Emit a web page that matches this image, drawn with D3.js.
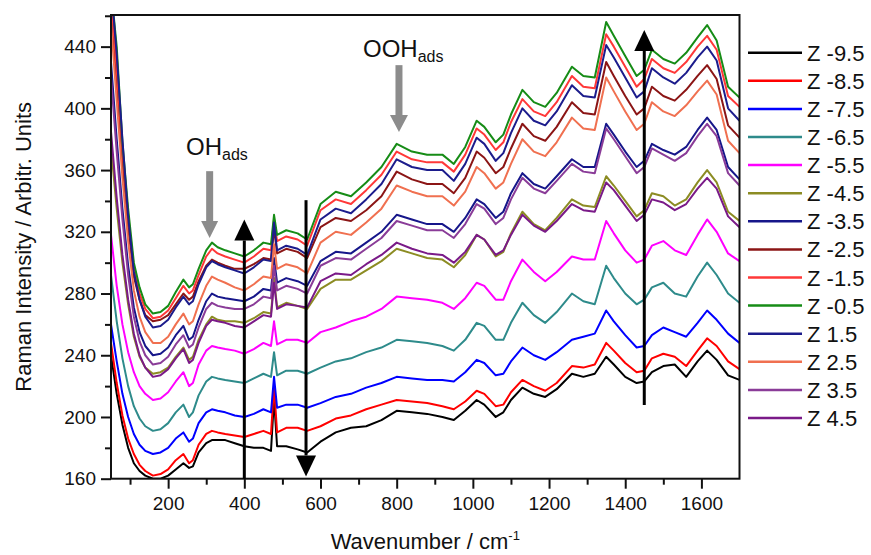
<!DOCTYPE html>
<html><head><meta charset="utf-8">
<script src="https://cdn.jsdelivr.net/npm/d3@7"></script>
<style>body{margin:0;background:#fff} svg{display:block} text{font-family:"Liberation Sans",Arial,sans-serif;fill:#111}</style>
</head><body><svg id="c" width="871" height="555"></svg>
<script>
const wavenumber = [50,65,80,95,110,125,140,160,180,200,220,240,255,265,280,300,315,330,350,375,400,425,450,470,478,486,510,540,565,600,640,680,720,760,800,840,880,920,950,980,1010,1030,1060,1080,1100,1130,1160,1190,1220,1260,1290,1320,1350,1370,1400,1430,1450,1470,1500,1530,1560,1590,1615,1640,1670,1700];

const seriesLabels = ["Z -9.5","Z -8.5","Z -7.5","Z -6.5","Z -5.5","Z -4.5","Z -3.5","Z -2.5","Z -1.5","Z -0.5","Z 1.5","Z 2.5","Z 3.5","Z 4.5"];

const zNeg9_5 = [240,215,195,180,170,165,162,160,160,162,166,170,167,168,177,183,185,185,185,183,181,180,180,178,212,181,181,179,177,184,190,193,194,198,204,203,202,200,198,204,211,208,200,203,211,219,215,213,218,228,226,228,239,234,226,222,223,229,233,234,226,236,243,237,227,224];
const zNeg8_5 = [248,222,201,186,176,169,165,162,163,166,172,176,170,172,182,189,191,190,189,188,187,189,191,189,220,190,193,193,191,194,199,201,205,208,211,210,209,207,205,210,217,215,207,208,216,224,220,217,222,233,232,234,248,243,235,229,230,238,241,239,233,243,251,246,236,231];
const zNeg7_5 = [260,236,215,200,189,182,178,176,177,180,186,190,184,186,196,203,205,204,203,201,200,202,205,203,226,206,208,208,206,209,213,215,219,222,226,225,224,224,223,229,237,235,227,228,236,245,240,237,242,250,252,254,269,262,253,245,246,253,258,255,252,261,269,263,254,248];
const zNeg6_5 = [292,262,238,220,207,199,194,191,192,196,203,208,200,203,214,223,226,225,224,223,222,225,228,226,242,227,230,230,228,232,236,238,242,245,250,249,248,246,243,250,261,259,250,250,261,274,266,261,268,280,275,273,298,290,280,273,276,284,287,280,278,291,300,292,280,274];
const zNeg5_5 = [318,285,260,242,229,220,215,211,212,216,223,229,220,222,234,243,246,245,244,243,241,244,248,246,262,247,250,250,248,255,258,262,265,270,278,277,276,274,270,277,287,285,276,276,288,302,294,288,294,304,302,302,327,319,308,300,302,311,314,308,305,318,328,320,306,301];
const zNeg4_5 = [375,335,300,273,252,239,232,228,229,232,239,245,237,239,250,260,265,263,262,262,261,264,268,267,290,271,274,272,270,283,289,289,295,301,309,306,303,302,297,305,318,315,304,307,319,333,325,321,329,341,337,336,356,350,340,330,334,345,343,337,341,352,360,352,333,327];
const zNeg3_5 = [430,380,335,298,271,255,246,240,241,245,253,259,250,252,263,275,280,278,277,276,275,278,283,282,303,287,290,288,285,301,307,306,313,320,331,328,325,325,320,329,341,338,329,333,345,358,351,348,356,367,362,362,390,383,372,362,366,377,373,370,375,386,394,386,362,354];
const zNeg2_5 = [465,415,365,323,291,276,266,262,263,266,273,280,276,278,288,298,302,300,298,296,296,299,303,302,322,306,309,307,303,323,329,327,334,343,359,354,351,351,345,355,372,368,358,362,374,390,382,379,388,404,397,396,430,421,408,396,400,414,408,405,412,421,428,419,389,381];
const zNeg1_5 = [472,425,374,331,297,280,270,264,265,269,277,285,280,282,292,304,309,306,304,302,300,304,309,308,328,314,317,315,311,334,341,338,347,357,372,367,365,365,359,370,387,383,373,378,391,406,398,395,404,421,414,413,448,440,427,414,419,432,426,423,430,440,447,438,408,401];
const zNeg0_5 = [478,440,378,335,300,284,273,267,268,272,281,289,284,286,296,308,313,310,308,306,304,308,313,312,331,318,321,319,315,338,346,343,352,362,377,372,370,370,364,375,392,388,378,383,396,412,404,401,410,427,421,420,456,447,434,421,425,438,432,429,436,446,454,444,414,407];
const zPos1_5 = [480,435,380,330,294,276,265,258,259,263,271,278,273,275,286,297,301,299,297,295,293,297,302,301,326,308,311,309,305,328,335,332,341,351,367,362,360,360,353,364,381,377,366,371,384,400,392,389,398,415,408,407,441,433,420,407,411,426,420,416,423,433,440,431,400,392];
const zPos2_5 = [455,405,355,314,282,265,255,248,248,252,260,267,260,262,273,285,291,289,287,284,282,286,291,290,312,296,299,297,293,313,320,318,326,335,350,346,343,343,337,346,362,358,348,352,364,380,372,369,378,394,387,386,420,411,398,386,390,404,398,395,402,411,418,409,379,371];
const zPos3_5 = [420,372,328,292,265,249,240,234,235,239,247,253,245,247,258,270,274,272,271,270,270,273,278,277,298,282,285,283,280,298,303,302,309,316,327,324,321,321,316,325,338,335,325,329,341,355,348,345,353,364,359,358,387,380,369,358,362,374,370,366,371,382,390,382,358,350];
const zPos4_5 = [385,342,305,276,254,240,232,226,227,231,238,244,235,237,248,259,263,262,261,259,258,262,266,265,287,270,273,272,271,288,293,292,299,305,313,309,306,305,300,307,318,315,305,308,318,331,324,320,327,338,334,333,352,347,337,327,331,341,339,334,338,348,355,348,330,323];

const seriesValues = [zNeg9_5,zNeg8_5,zNeg7_5,zNeg6_5,zNeg5_5,zNeg4_5,zNeg3_5,zNeg2_5,zNeg1_5,zNeg0_5,zPos1_5,zPos2_5,zPos3_5,zPos4_5];
const seriesColors = ["#000000","#ff0000","#0000ff","#2e8b8b","#ff00ff","#8c8c23","#16168a","#8b1515","#ff3838","#168c16","#1c1c8c","#f07050","#8a3c98","#7a1a88"];

const yMajor = [160,200,240,280,320,360,400,440];
const yMinor = [180,220,260,300,340,380,420,460];
const xMajor = [200,400,600,800,1000,1200,1400,1600];
const xMinor = [100,300,500,700,900,1100,1300,1500];

const svg = d3.select("#c");
const L = 111, R = 739.5, T = 15, B = 478.7;
const x = d3.scaleLinear().domain([50,1700]).range([L,R]);
const y = d3.scaleLinear().domain([160,460.5]).range([B,T]);

svg.append("defs").append("clipPath").attr("id","clip")
  .append("rect").attr("x",L).attr("y",T).attr("width",R-L).attr("height",B-T);

const line = d3.line().x((d,i)=>x(wavenumber[i])).y(d=>y(d));
const gLines = svg.append("g").attr("clip-path","url(#clip)");
seriesValues.forEach((vals,k)=>{
  gLines.append("path").datum(vals).attr("d",line)
    .attr("fill","none").attr("stroke",seriesColors[k]).attr("stroke-width",2).attr("stroke-linejoin","round");
});

// axes
const fs = "19px";
const yAx = svg.append("g").attr("transform",`translate(${L},0)`)
  .call(d3.axisLeft(y).tickValues(yMajor).tickSize(10).tickPadding(5).tickFormat(d3.format("d")));
svg.append("g").attr("transform",`translate(${L},0)`)
  .call(d3.axisLeft(y).tickValues(yMinor).tickSize(6).tickFormat(""));
const xAx = svg.append("g").attr("transform",`translate(0,${B})`)
  .call(d3.axisBottom(x).tickValues(xMajor).tickSize(10).tickPadding(8).tickFormat(d3.format("d")));
svg.append("g").attr("transform",`translate(0,${B})`)
  .call(d3.axisBottom(x).tickValues(xMinor).tickSize(6).tickFormat(""));
svg.selectAll(".domain").remove();
svg.selectAll(".tick line").attr("stroke","#111").attr("stroke-width",2);
svg.selectAll(".tick text").style("font-size",fs).style("font-family","'Liberation Sans',Arial,sans-serif").attr("fill","#111");

// frame
svg.append("rect").attr("x",L).attr("y",T).attr("width",R-L).attr("height",B-T)
  .attr("fill","none").attr("stroke","#111").attr("stroke-width",2);

// arrows
function arrow(xv, fromV, toV, color, shaftW, headW, headL){
  const xp = x(xv), y0 = y(fromV), y1 = y(toV);
  const dir = y1 < y0 ? 1 : -1; // 1 = up
  const yb = y1 + dir*headL;
  svg.append("line").attr("x1",xp).attr("x2",xp).attr("y1",y0).attr("y2",yb)
    .attr("stroke",color).attr("stroke-width",shaftW);
  svg.append("path").attr("d",`M${xp-headW/2},${yb}L${xp+headW/2},${yb}L${xp},${y1}Z`).attr("fill",color);
}
arrow(400,160,328,"#000",3,20,21);
arrow(562,340.5,161.5,"#000",3,20,21);
arrow(1450,207.7,450.8,"#000",3,20,21);
arrow(309,359.3,316,"#8c8c8c",7,17,17);
arrow(806,428,384.6,"#8c8c8c",7,18,17);

// annotation labels
function label(xv, yv, main){
  const t = svg.append("text").attr("x",x(xv)).attr("y",y(yv)).style("font-size","24px");
  t.append("tspan").text(main);
  t.append("tspan").attr("dy",5).style("font-size","16px").text("ads");
}
label(247,369.8,"OH");
label(711.6,433.3,"OOH");

// axis titles
svg.append("text").attr("transform",`translate(31,${(T+B)/2}) rotate(-90)`)
  .attr("text-anchor","middle").style("font-size","22px").text("Raman Intensity / Arbitr. Units");
const xt = svg.append("text").attr("x",(L+R)/2).attr("y",549).attr("text-anchor","middle").style("font-size","22px");
xt.append("tspan").text("Wavenumber / cm");
xt.append("tspan").attr("dy",-9).style("font-size","13px").text("-1");

// legend
const lg = svg.append("g");
seriesLabels.forEach((s,k)=>{
  const yy = 52.7 + k*28.1;
  lg.append("line").attr("x1",748).attr("x2",802).attr("y1",yy).attr("y2",yy)
    .attr("stroke",seriesColors[k]).attr("stroke-width",2.5);
  lg.append("text").attr("x",807).attr("y",yy+8).style("font-size","22px").text(s);
});
</script></body></html>
